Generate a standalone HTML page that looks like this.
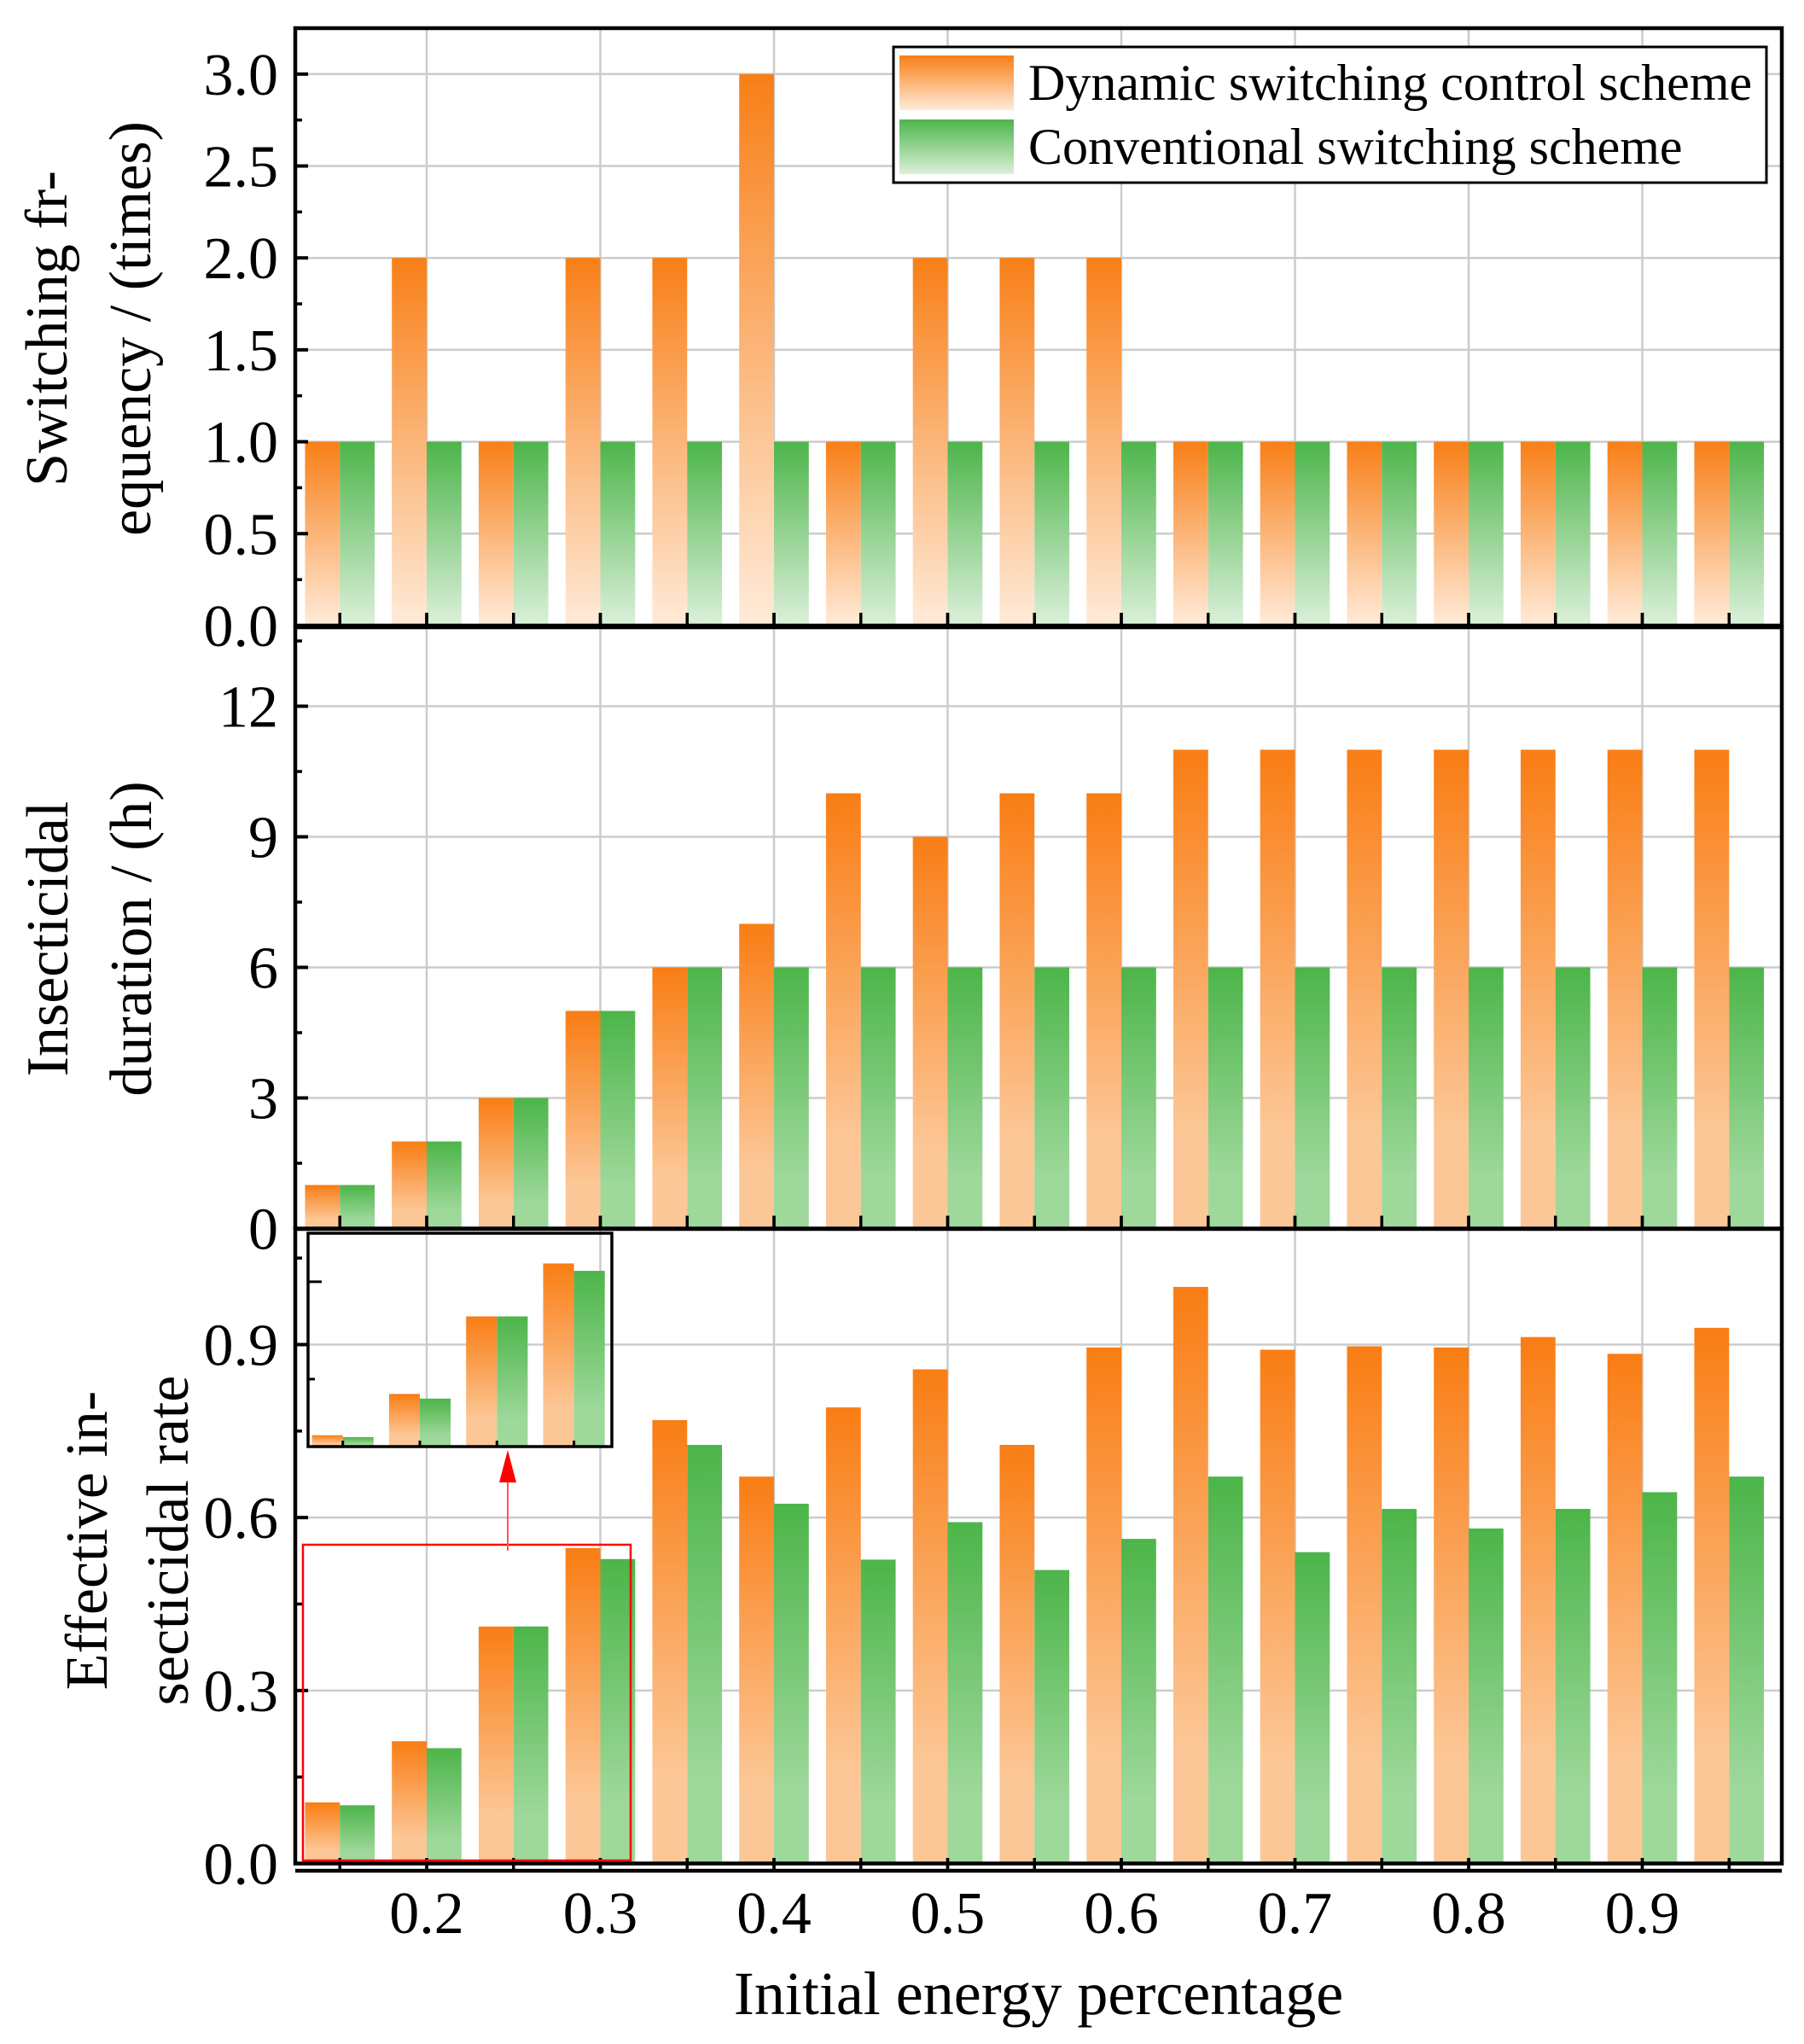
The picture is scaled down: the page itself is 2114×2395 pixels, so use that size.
<!DOCTYPE html>
<html><head><meta charset="utf-8"><style>
html,body{margin:0;padding:0;background:#fff}
svg{display:block;font-family:"Liberation Serif","Times New Roman",serif}
</style></head><body>
<svg id="chart" width="2114" height="2395" viewBox="0 0 2114 2395" xmlns="http://www.w3.org/2000/svg">
<defs>
<linearGradient id="o1" x1="0" y1="0" x2="0" y2="1"><stop offset="0" stop-color="#F87F17"/><stop offset="1" stop-color="#FFEBD9"/></linearGradient>
<linearGradient id="g1" x1="0" y1="0" x2="0" y2="1"><stop offset="0" stop-color="#4DB54B"/><stop offset="1" stop-color="#DCF0DA"/></linearGradient>
<linearGradient id="o2" x1="0" y1="0" x2="0" y2="1"><stop offset="0" stop-color="#F97D14"/><stop offset="0.8" stop-color="#FCC797"/><stop offset="1" stop-color="#FCC797"/></linearGradient>
<linearGradient id="g2" x1="0" y1="0" x2="0" y2="1"><stop offset="0" stop-color="#4CB549"/><stop offset="0.8" stop-color="#9ED89B"/><stop offset="1" stop-color="#9ED89B"/></linearGradient>
</defs>
<g id="layer"></g>
</svg>
<script>
const categories = [0.15,0.2,0.25,0.3,0.35,0.4,0.45,0.5,0.55,0.6,0.65,0.7,0.75,0.8,0.85,0.9,0.95];
const freqDynamic = [1,2,1,2,2,3,1,2,2,2,1,1,1,1,1,1,1];
const freqConventional = [1,1,1,1,1,1,1,1,1,1,1,1,1,1,1,1,1];
const durDynamic = [1,2,3,5,6,7,10,9,10,10,11,11,11,11,11,11,11];
const durConventional = [1,2,3,5,6,6,6,6,6,6,6,6,6,6,6,6,6];
const rateDynamic = [0.106,0.212,0.411,0.547,0.769,0.671,0.791,0.857,0.726,0.895,1.0,0.891,0.897,0.895,0.913,0.884,0.929];
const rateConventional = [0.101,0.2,0.411,0.528,0.726,0.624,0.527,0.592,0.509,0.563,0.671,0.54,0.615,0.581,0.615,0.644,0.671];
const xTickLabels = ["0.2","0.3","0.4","0.5","0.6","0.7","0.8","0.9"];
const freqTickLabels = ["0.0","0.5","1.0","1.5","2.0","2.5","3.0"];
const durTickLabels = ["0","3","6","9","12"];
const rateTickLabels = ["0.0","0.3","0.6","0.9"];

const NS="http://www.w3.org/2000/svg";
const root=document.getElementById('layer');
function mk(tag,attrs,parent){const e=document.createElementNS(NS,tag);for(const k in attrs)e.setAttribute(k,attrs[k]);(parent||root).appendChild(e);return e;}
const L=346,R=2088;
const x=v=>500+(v-0.2)*2035;
const BW=40.8;
const panels=[
 {top:33,bot:733,per:215.4,dyn:freqDynamic,con:freqConventional,labels:freqTickLabels,minor:[0.25,0.75,1.25,1.75,2.25,2.75],go:'url(#o1)',gg:'url(#g1)',name:'switching-frequency'},
 {top:735,bot:1439.5,per:51.0,dyn:durDynamic,con:durConventional,labels:durTickLabels,minor:[1.5,4.5,7.5,10.5,13.5],go:'url(#o2)',gg:'url(#g2)',name:'insecticidal-duration'},
 {top:1440,bot:2183.5,per:675.6,dyn:rateDynamic,con:rateConventional,labels:rateTickLabels,minor:[0.15,0.45,0.75,1.05],go:'url(#o2)',gg:'url(#g2)',name:'effective-rate'}
];
panels.forEach((p,pi)=>{
 const y=v=>p.bot-v*p.per;
 const g=mk('g',{});
 
 
 xTickLabels.forEach(t=>{const l=mk('line',{x1:x(+t),x2:x(+t),y1:p.top,y2:p.bot,stroke:'#cccccc','stroke-width':2.5},g);
  
  });
 p.labels.forEach(t=>{const v=+t;if(v===0)return;const l=mk('line',{x1:L,x2:R,y1:y(v),y2:y(v),stroke:'#cccccc','stroke-width':2.5},g);
  
  });
 categories.forEach((c,i)=>{
  const hd=p.dyn[i]*p.per, hc=p.con[i]*p.per;
  const b1=mk('rect',{x:x(c)-BW,y:p.bot-hd,width:BW,height:hd,fill:p.go},g);
  
  
  const b2=mk('rect',{x:x(c),y:p.bot-hc,width:BW,height:hc,fill:p.gg},g);
  
  
 });
 p.labels.forEach(t=>{const v=+t;
  mk('line',{x1:L,x2:L+15,y1:y(v),y2:y(v),stroke:'#000','stroke-width':4},g);
  const tx=mk('text',{x:326,y:y(v)+24,'text-anchor':'end','font-size':70},g);tx.textContent=t;
  
  });
 p.minor.forEach(v=>{if(y(v)>p.top)mk('line',{x1:L,x2:L+8,y1:y(v),y2:y(v),stroke:'#000','stroke-width':3.5},g);});
 const bt = pi===2?2192:p.bot;
 categories.forEach(c=>mk('line',{x1:x(c),x2:x(c),y1:bt,y2:bt-15,stroke:'#000','stroke-width':3.5},g));
 xTickLabels.forEach(t=>mk('line',{x1:x(+t),x2:x(+t),y1:bt,y2:bt-15,stroke:'#000','stroke-width':3.5},g));
 const fr=mk('rect',{x:L,y:p.top,width:R-L,height:p.bot-p.top,fill:'none',stroke:'#000','stroke-width':4.5},g);
 
 
});
const xa=mk('line',{x1:L,x2:R,y1:2192,y2:2192,stroke:'#000','stroke-width':4.5});


xTickLabels.forEach(t=>{const tx=mk('text',{x:x(+t),y:2265,'text-anchor':'middle','font-size':70});tx.textContent=t;
 
 });
const xt=mk('text',{x:1217,y:2360,'text-anchor':'middle','font-size':72});xt.textContent='Initial energy percentage';


function ytitle(lines,cy,name){
 const g=mk('g',{});
 
 
 lines.forEach(([t,bx])=>{const tx=mk('text',{x:0,y:0,'text-anchor':'middle','font-size':70,transform:`translate(${bx},${cy}) rotate(-90)`},g);tx.textContent=t;});
}
ytitle([['Switching fr-',78],['equency / (times)',176]],385,'y-axis-title-frequency');
ytitle([['Insecticidal',79],['duration / (h)',177]],1100,'y-axis-title-duration');
ytitle([['Effective in-',125],['secticidal rate',220]],1805,'y-axis-title-rate');

// inset (zoom of first four categories)
const ix=v=>401.7+(v-0.15)*1806, iy=v=>1694-(v-0.079)*456.4, IBW=36.1;
const ig=mk('g',{});


for(let i=0;i<4;i++){
 const c=categories[i];
 const a=mk('rect',{x:ix(c)-IBW,y:iy(rateDynamic[i]),width:IBW,height:1694-iy(rateDynamic[i]),fill:'url(#o2)'},ig);
 
 
 const b=mk('rect',{x:ix(c),y:iy(rateConventional[i]),width:IBW,height:1694-iy(rateConventional[i]),fill:'url(#g2)'},ig);
 
 
 mk('line',{x1:ix(c),x2:ix(c),y1:1695,y2:1688,stroke:'#000','stroke-width':3},ig);
}
mk('line',{x1:361,x2:377,y1:iy(0.5),y2:iy(0.5),stroke:'#000','stroke-width':3},ig);
mk('line',{x1:361,x2:369,y1:iy(0.25),y2:iy(0.25),stroke:'#000','stroke-width':3},ig);
mk('rect',{x:361,y:1445,width:356,height:250,fill:'none',stroke:'#000','stroke-width':3.5},ig);
const rb=mk('rect',{x:355,y:1810,width:384,height:370,fill:'none',stroke:'#ff0000','stroke-width':2.5});


const ar=mk('g',{});


mk('line',{x1:595,x2:595,y1:1817,y2:1735,stroke:'#ff5555','stroke-width':2},ar);
mk('polygon',{points:'595,1699 585,1737 605,1737',fill:'#ff0000'},ar);

// legend
const lg=mk('g',{});


mk('rect',{x:1047,y:55,width:1023,height:159,fill:'#fff',stroke:'#000','stroke-width':3},lg);
const e1=mk('g',{},lg);


mk('rect',{x:1054,y:65,width:134,height:64,fill:'url(#o1)'},e1);
const t1=mk('text',{x:1205,y:117,'font-size':60},e1);t1.textContent='Dynamic switching control scheme';
const e2=mk('g',{},lg);


mk('rect',{x:1054,y:140,width:134,height:64,fill:'url(#g1)'},e2);
const t2=mk('text',{x:1205,y:192,'font-size':60},e2);t2.textContent='Conventional switching scheme';
</script>
</body></html>
